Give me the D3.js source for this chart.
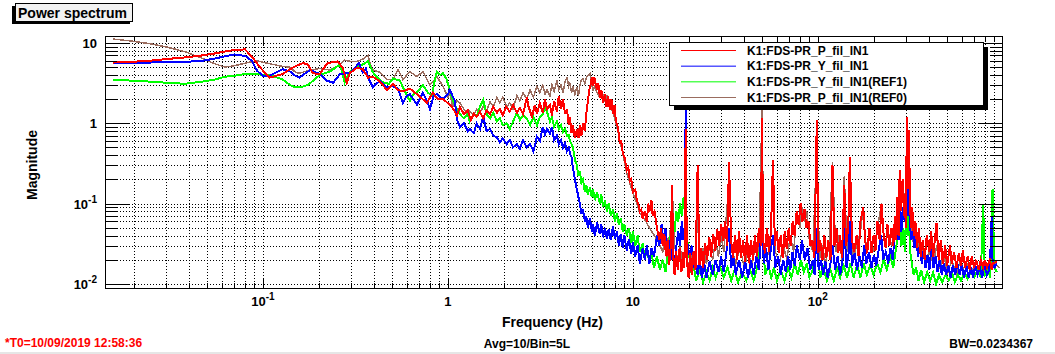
<!DOCTYPE html>
<html lang="en">
<head>
<meta charset="utf-8">
<style>
  body { margin: 0; background: #fff; }
  svg { display: block; }
  text { font-family: "Liberation Sans", Arial, sans-serif; font-weight: bold; }
  .tick line { shape-rendering: crispEdges; }
  .grid line { stroke: #000; stroke-dasharray: 1,2; shape-rendering: crispEdges; }
  .grid path, .ticks path { display: none; }
  .ticks line { stroke: #000; }
  .trace { fill: none; stroke-width: 2; stroke-linejoin: miter; shape-rendering: crispEdges; }
</style>
<script src="https://d3js.org/d3.v7.min.js" charset="utf-8"></script>
</head>
<body>
<script>
  // traces: [frequency (Hz), magnitude]
  let refP = [
    [0.0154,11.2],[0.0191,10.6],[0.0245,9.8],[0.0295,9.0],[0.0378,7.8],[0.0472,6.4],[0.055,5.5],[0.0622,5.0],[0.070,5.2],[0.080,5.6],
    [0.093,6.0],[0.109,5.5],[0.128,5.1],[0.140,5.0],[0.150,4.3],[0.158,4.2],[0.179,4.6],[0.203,4.8],[0.230,4.6],[0.255,5.2],
    [0.277,6.1],[0.295,5.9],[0.322,5.9],[0.347,6.3],[0.370,7.0],[0.385,5.0],[0.393,4.6],[0.429,4.3],[0.468,3.5],[0.504,3.5],
    [0.537,4.7],[0.571,3.5],[0.623,4.4],[0.680,3.8],[0.733,4.4],[0.799,3.0],[0.872,3.8],[0.940,2.9],[1.0,2.1],[1.025,2.4],
    [1.06,1.6],[1.12,1.9],[1.16,1.8],[1.22,1.5],[1.28,1.3],[1.31,1.4],[1.38,1.25],[1.43,1.5],[1.49,1.35],[1.55,1.6],
    [1.62,1.45],[1.69,1.85],[1.76,1.6],[1.84,2.1],[1.91,1.8],[1.98,2.1],[2.08,1.6],[2.16,1.8],[2.25,1.5],[2.36,2.2],
    [2.45,1.9],[2.55,2.4],[2.67,2.0],[2.78,2.6],[2.9,2.1],[3.03,2.9],[3.14,2.4],[3.26,3.0],[3.35,2.3],[3.43,2.6],
    [3.56,2.2],[3.65,3.0],[3.75,2.5],[3.88,3.4],[3.98,2.6],[4.09,3.0],[4.19,2.4],[4.30,3.3],[4.40,3.7],[4.50,2.9],
    [4.57,3.2],[4.66,2.4],[4.74,2.9],[4.86,2.3],[4.98,2.8],[5.08,2.2],[5.17,3.0],[5.27,3.5],[5.37,3.6],[5.50,3.1],
    [5.60,3.7],[5.71,3.9],[5.86,4.2],[5.95,3.3],[6.09,2.6],[6.23,2.9],[6.40,2.4],[6.63,2.1],[6.80,2.5],[7.06,1.9],
    [7.24,2.2],[7.51,1.7],[7.81,1.35],[8.10,1.0],[8.30,0.8],[8.50,0.6],[8.82,0.42],[9.00,0.33],[9.27,0.24],[9.63,0.18],
    [10.0,0.135],[10.5,0.1],[10.9,0.076],[11.3,0.07],[11.9,0.057],[12.3,0.05],[12.8,0.043],[13.6,0.035],[14.5,0.025],[15,0.045],
    [15.5,0.03],[16,0.05],[16.4,0.12],[16.8,0.03],[17.5,0.02],[18,0.03],[18.5,0.018],[19,0.025],[19.3,0.5],[19.6,0.02],
    [20.3,0.016],[21,0.024],[22,0.015],[22.4,0.25],[23,0.02],[24,0.028],[25,0.018],[26,0.03],[27,0.02],[28,0.035],
    [29,0.022],[30,0.04],[31,0.025],[33.1,0.2],[34,0.03],[36,0.018],[38,0.028],[40,0.016],[42,0.025],[44,0.017],
    [46,0.03],[48,0.02],[49.9,1.6],[51,0.025],[53,0.04],[55,0.02],[57.2,0.25],[59,0.025],[62,0.018],[65,0.03],
    [68,0.02],[71,0.04],[74,0.025],[77,0.08],[80,0.05],[82,0.09],[85,0.06],[87,0.08],[90,0.035],[94,0.025],
    [98.7,0.5],[102,0.02],[106,0.03],[110,0.018],[115,0.03],[120,0.33],[125,0.025],[130,0.04],[135,0.02],[139,0.22],
    [144,0.025],[149,0.3],[155,0.02],[162,0.03],[170,0.045],[176,0.09],[182,0.03],[190,0.04],[200,0.025],[210,0.05],
    [221,0.1],[230,0.03],[240,0.045],[250,0.03],[261,0.045],[270,0.07],[277,0.2],[288,0.15],[295,0.08],[303,0.7],
    [310,0.3],[314,0.1],[320,0.05],[330,0.03],[340,0.045],[352,0.025],[365,0.03],[380,0.018],[400,0.025],[420,0.018],
    [440,0.03],[460,0.015],[480,0.025],[500,0.013],[530,0.02],[560,0.013],[590,0.02],[620,0.014],[650,0.018],[680,0.015],
    [720,0.018],[760,0.014],[800,0.017],[850,0.015],[900,0.018],[960,0.016]
  ];

  let refY = [
    [0.0154,3.5],[0.0191,3.4],[0.0245,3.3],[0.030,3.2],[0.0378,3.1],[0.0472,3.3],[0.055,3.5],[0.0622,3.8],[0.070,3.9],[0.080,4.1],
    [0.093,4.1],[0.100,4.0],[0.109,4.0],[0.120,3.7],[0.128,3.5],[0.140,3.0],[0.150,2.8],[0.160,2.8],[0.175,3.0],[0.190,3.5],
    [0.203,4.0],[0.230,4.4],[0.261,5.4],[0.277,3.2],[0.295,4.4],[0.320,5.0],[0.347,5.4],[0.370,5.9],[0.393,4.3],[0.420,3.6],
    [0.450,3.2],[0.480,3.1],[0.504,3.6],[0.550,3.4],[0.580,2.6],[0.623,1.9],[0.65,2.3],[0.69,2.5],[0.733,3.0],[0.78,2.4],
    [0.82,2.2],[0.85,3.5],[0.872,4.4],[0.91,4.0],[0.94,4.2],[0.98,3.6],[1.025,2.6],[1.06,2.0],[1.09,1.7],[1.16,1.3],
    [1.22,1.15],[1.28,1.3],[1.31,1.05],[1.38,1.3],[1.43,1.2],[1.49,1.6],[1.55,1.95],[1.62,1.3],[1.69,1.15],[1.76,1.35],
    [1.84,1.05],[1.91,1.15],[1.98,0.95],[2.08,1.0],[2.16,0.85],[2.25,1.05],[2.36,1.35],[2.45,1.1],[2.55,1.25],[2.67,1.15],
    [2.78,0.95],[2.9,1.2],[3.03,0.95],[3.14,1.2],[3.26,1.3],[3.35,1.6],[3.43,1.4],[3.56,1.05],[3.65,1.2],[3.75,0.9],
    [3.88,1.05],[3.98,0.85],[4.09,0.95],[4.19,0.78],[4.30,0.85],[4.40,0.7],[4.50,0.72],[4.57,0.6],[4.66,0.55],[4.74,0.5],
    [4.86,0.35],[4.98,0.3],[5.08,0.22],[5.17,0.25],[5.27,0.18],[5.37,0.2],[5.50,0.14],[5.60,0.17],[5.71,0.13],[5.86,0.16],
    [6.00,0.12],[6.09,0.15],[6.23,0.11],[6.40,0.14],[6.63,0.1],[6.75,0.13],[6.90,0.09],[7.06,0.11],[7.24,0.08],[7.40,0.1],
    [7.60,0.07],[7.81,0.085],[8.0,0.06],[8.19,0.075],[8.40,0.055],[8.60,0.065],[8.82,0.045],[9.0,0.055],[9.27,0.04],[9.50,0.05],
    [9.80,0.032],[10.0,0.045],[10.3,0.03],[10.6,0.04],[10.9,0.025],[11.3,0.032],[11.6,0.02],[11.9,0.028],[12.3,0.018],[12.6,0.025],
    [13.0,0.016],[13.5,0.022],[14.0,0.015],[14.5,0.02],[15.0,0.014],[15.5,0.025],[16.0,0.04],[16.4,0.06],[16.8,0.045],[17.2,0.08],
    [17.6,0.06],[18.0,0.1],[18.4,0.07],[18.8,0.12],[19.1,0.08],[19.3,0.15],[19.5,0.05],[19.8,0.03],[20.3,0.02],[20.8,0.013],
    [21.3,0.017],[22,0.011],[23,0.015],[24,0.0105],[25,0.014],[26,0.011],[27,0.016],[28,0.012],[29.5,0.017],[31,0.012],
    [32.5,0.016],[34,0.011],[35.5,0.015],[37,0.0105],[39,0.014],[41,0.011],[43,0.015],[45,0.011],[47,0.016],[49.9,0.04],
    [52,0.013],[54,0.017],[56,0.012],[58,0.016],[60,0.011],[63,0.015],[66,0.011],[69,0.016],[72,0.012],[75,0.018],
    [78,0.013],[81,0.02],[84,0.014],[87,0.018],[90,0.012],[94,0.015],[98.7,0.03],[103,0.012],[107,0.016],[112,0.011],
    [117,0.015],[122,0.011],[127,0.016],[132,0.012],[138,0.017],[144,0.012],[150,0.018],[156,0.012],[163,0.017],[170,0.012],
    [177,0.018],[184,0.013],[192,0.017],[200,0.013],[209,0.018],[218,0.014],[227,0.02],[236,0.015],[246,0.022],[256,0.016],
    [266,0.03],[277,0.08],[283,0.03],[290,0.05],[296,0.025],[303,0.15],[307,0.04],[311,0.06],[316,0.025],[322,0.018],
    [330,0.013],[340,0.016],[350,0.011],[362,0.015],[375,0.0105],[390,0.014],[405,0.011],[420,0.014],[436,0.01],[452,0.013],
    [470,0.0105],[490,0.013],[510,0.011],[530,0.014],[550,0.0105],[572,0.013],[595,0.011],[620,0.014],[645,0.0115],[670,0.014],
    [700,0.012],[730,0.015],[760,0.012],[783,0.1],[800,0.013],[830,0.015],[855,0.012],[880,0.15],[900,0.016],[930,0.014]
  ];

  let liveY = [
    [0.0154,5.7],[0.0191,5.6],[0.0245,5.7],[0.030,5.8],[0.0378,5.8],[0.0472,6.0],[0.055,6.4],[0.0622,6.8],[0.070,7.2],[0.080,6.9],
    [0.087,6.0],[0.093,4.5],[0.100,3.9],[0.109,3.9],[0.120,4.4],[0.128,4.7],[0.140,4.4],[0.150,3.9],[0.158,3.7],[0.170,4.2],
    [0.180,4.6],[0.203,4.1],[0.22,3.4],[0.24,3.2],[0.261,4.1],[0.28,4.2],[0.30,4.3],[0.33,5.6],[0.347,4.3],[0.36,4.8],
    [0.37,3.7],[0.393,2.8],[0.429,3.4],[0.468,2.8],[0.504,2.9],[0.537,2.7],[0.571,1.8],[0.60,2.2],[0.623,2.3],[0.68,1.7],
    [0.733,2.4],[0.77,1.9],[0.80,1.5],[0.837,2.2],[0.872,2.3],[0.94,2.0],[1.0,2.3],[1.025,2.6],[1.09,1.9],[1.12,1.1],
    [1.16,0.9],[1.22,1.0],[1.28,0.8],[1.31,0.85],[1.38,0.75],[1.43,1.0],[1.49,0.85],[1.55,1.2],[1.62,0.8],[1.69,0.85],
    [1.76,0.7],[1.84,0.67],[1.91,0.58],[1.98,0.65],[2.08,0.55],[2.16,0.62],[2.25,0.5],[2.36,0.55],[2.45,0.48],[2.55,0.62],
    [2.67,0.5],[2.78,0.55],[2.9,0.45],[3.03,0.68],[3.14,0.6],[3.26,0.9],[3.35,0.72],[3.43,0.85],[3.56,0.75],[3.65,0.9],
    [3.75,0.62],[3.88,0.7],[3.98,0.55],[4.09,0.62],[4.19,0.5],[4.30,0.56],[4.40,0.45],[4.50,0.5],[4.57,0.42],[4.66,0.38],
    [4.74,0.28],[4.86,0.2],[4.98,0.15],[5.08,0.12],[5.17,0.1],[5.27,0.075],[5.37,0.085],[5.50,0.06],[5.60,0.07],[5.71,0.05],
    [5.86,0.065],[6.00,0.045],[6.09,0.055],[6.23,0.04],[6.40,0.058],[6.63,0.042],[6.75,0.055],[6.90,0.038],[7.06,0.05],[7.24,0.036],
    [7.40,0.048],[7.60,0.035],[7.81,0.052],[8.0,0.036],[8.19,0.045],[8.40,0.03],[8.60,0.042],[8.82,0.028],[9.0,0.04],[9.27,0.026],
    [9.50,0.036],[9.80,0.024],[10.0,0.033],[10.3,0.022],[10.6,0.03],[10.9,0.018],[11.3,0.028],[11.6,0.02],[11.9,0.03],[12.3,0.018],
    [12.6,0.028],[13.0,0.022],[13.5,0.04],[13.9,0.03],[14.3,0.055],[14.6,0.035],[15.0,0.05],[15.3,0.026],[15.7,0.035],[16.0,0.02],
    [16.4,0.03],[16.8,0.017],[17.2,0.03],[17.6,0.045],[18.0,0.03],[18.4,0.06],[18.8,0.035],[19.1,0.05],[19.3,1.8],[19.5,0.04],
    [19.8,0.03],[20.3,0.022],[20.8,0.03],[21.3,0.016],[21.8,0.022],[22.4,0.013],[23.0,0.02],[23.6,0.012],[24.3,0.018],[25.0,0.012],
    [26,0.019],[27,0.013],[28,0.02],[29,0.014],[30,0.022],[31,0.014],[32,0.024],[33.1,0.05],[34,0.016],[35,0.021],
    [36,0.013],[37.5,0.02],[39,0.012],[40.5,0.019],[42,0.012],[43.5,0.02],[45,0.013],[46.5,0.022],[48,0.015],[49.9,0.07],
    [51,0.018],[52.5,0.028],[54,0.015],[55.5,0.025],[57.2,0.04],[59,0.016],[61,0.022],[63,0.013],[65,0.02],[67,0.014],
    [69,0.022],[71,0.015],[73,0.025],[75,0.017],[77,0.03],[80,0.02],[82,0.035],[85,0.02],[88,0.028],[91,0.015],
    [94,0.02],[96,0.013],[98.7,0.05],[101,0.015],[104,0.02],[107,0.013],[110,0.019],[113,0.012],[117,0.018],[120,0.03],
    [124,0.015],[128,0.022],[132,0.013],[136,0.02],[139,0.05],[143,0.016],[147,0.025],[149,0.06],[153,0.017],[158,0.024],
    [163,0.015],[168,0.022],[173,0.016],[178,0.03],[183,0.018],[189,0.025],[195,0.016],[201,0.023],[207,0.017],[213,0.026],
    [220,0.04],[226,0.02],[233,0.025],[240,0.018],[247,0.028],[254,0.02],[261,0.045],[268,0.06],[273,0.035],[277,0.13],
    [283,0.045],[288,0.09],[295,0.06],[300,0.1],[303,0.3],[307,0.07],[310,0.15],[314,0.06],[320,0.035],[327,0.05],
    [333,0.028],[340,0.04],[348,0.022],[356,0.03],[365,0.018],[373,0.026],[382,0.016],[392,0.023],[401,0.015],[412,0.03],
    [422,0.016],[433,0.022],[444,0.014],[456,0.02],[468,0.013],[480,0.018],[494,0.013],[508,0.017],[522,0.012],[537,0.017],
    [552,0.013],[568,0.018],[584,0.013],[600,0.017],[617,0.012],[635,0.017],[653,0.012],[672,0.016],[690,0.012],[710,0.017],
    [730,0.013],[752,0.016],[774,0.012],[796,0.018],[820,0.013],[845,0.015],[860,0.03],[871,0.068],[880,0.02],[900,0.016],
    [930,0.018]
  ];

  let liveP = [
    [0.0154,5.7],[0.0191,5.8],[0.0245,6.0],[0.030,6.3],[0.0378,6.6],[0.0472,7.0],[0.055,7.4],[0.0622,7.8],[0.070,8.2],[0.080,8.3],
    [0.088,6.6],[0.095,5.2],[0.102,4.3],[0.109,3.7],[0.118,3.9],[0.128,4.1],[0.140,4.7],[0.149,5.1],[0.158,5.4],[0.165,5.6],
    [0.175,5.4],[0.186,4.2],[0.203,4.1],[0.223,5.6],[0.254,5.9],[0.270,4.9],[0.284,3.2],[0.295,4.2],[0.322,4.9],[0.347,4.7],
    [0.370,3.7],[0.393,3.8],[0.429,3.3],[0.468,2.6],[0.504,3.1],[0.537,2.6],[0.571,2.5],[0.623,2.7],[0.680,2.3],[0.730,2.0],
    [0.770,1.8],[0.830,2.4],[0.880,2.0],[0.940,2.0],[1.025,1.7],[1.07,1.5],[1.12,1.25],[1.16,1.6],[1.22,1.3],[1.28,1.45],
    [1.33,1.1],[1.38,1.3],[1.43,1.2],[1.49,1.4],[1.55,1.15],[1.62,1.45],[1.69,1.3],[1.76,1.6],[1.84,1.35],[1.91,1.5],
    [1.98,1.25],[2.06,1.6],[2.16,1.4],[2.25,1.7],[2.36,1.35],[2.45,1.55],[2.55,1.3],[2.67,2.1],[2.73,1.6],[2.85,1.2],
    [2.95,1.7],[3.03,1.3],[3.14,1.8],[3.26,1.35],[3.35,2.0],[3.43,1.5],[3.56,1.7],[3.65,1.25],[3.75,1.9],[3.88,1.4],
    [3.98,2.2],[4.09,1.5],[4.19,2.0],[4.30,1.3],[4.40,1.5],[4.50,0.95],[4.57,1.2],[4.66,0.75],[4.74,0.95],[4.86,0.65],
    [4.98,0.85],[5.08,0.65],[5.17,0.95],[5.27,0.7],[5.37,1.0],[5.50,0.8],[5.60,1.3],[5.71,1.9],[5.80,2.5],[5.90,3.0],
    [6.00,3.7],[6.09,2.9],[6.18,3.8],[6.30,3.0],[6.40,2.6],[6.50,3.2],[6.63,2.1],[6.75,2.6],[6.90,1.8],[7.06,2.3],
    [7.20,1.6],[7.35,2.2],[7.51,1.45],[7.65,2.0],[7.81,1.3],[7.95,1.7],[8.10,1.05],[8.30,0.9],[8.50,0.55],[8.65,0.62],
    [8.82,0.42],[9.00,0.38],[9.27,0.26],[9.45,0.28],[9.63,0.19],[9.80,0.2],[10.0,0.14],[10.3,0.15],[10.5,0.11],[10.7,0.1],
    [10.9,0.08],[11.1,0.085],[11.3,0.065],[11.6,0.08],[11.9,0.06],[12.1,0.1],[12.3,0.08],[12.6,0.11],[12.8,0.07],[13.1,0.08],
    [13.5,0.05],[13.9,0.035],[14.2,0.05],[14.5,0.03],[14.8,0.042],[15.1,0.022],[15.4,0.035],[15.7,0.017],[16.0,0.028],[16.3,0.17],
    [16.5,0.024],[16.8,0.013],[17.1,0.026],[17.5,0.015],[17.9,0.028],[18.3,0.014],[18.7,0.025],[19.0,0.016],[19.3,0.85],[19.6,0.019],
    [20.0,0.012],[20.4,0.024],[20.8,0.013],[21.3,0.026],[21.8,0.015],[22.4,0.3],[22.9,0.017],[23.4,0.028],[24.0,0.016],[24.6,0.032],
    [25.2,0.02],[25.9,0.038],[26.5,0.022],[27.2,0.042],[27.9,0.026],[28.6,0.048],[29.3,0.03],[30.0,0.055],[30.8,0.034],[31.5,0.06],
    [32.3,0.03],[33.1,0.33],[34.0,0.034],[34.8,0.021],[35.7,0.04],[36.6,0.02],[37.5,0.045],[38.4,0.021],[39.4,0.035],[40.4,0.019],
    [41.4,0.04],[42.4,0.018],[43.5,0.035],[44.6,0.02],[45.7,0.04],[46.8,0.022],[48.0,0.05],[49.2,0.03],[49.9,1.15],[50.6,0.035],
    [51.8,0.024],[53.1,0.05],[54.4,0.025],[55.8,0.045],[57.2,0.35],[58.6,0.03],[60.0,0.045],[61.5,0.024],[63.0,0.04],[64.6,0.021],
    [66.2,0.045],[67.9,0.027],[69.6,0.05],[71.3,0.03],[73.1,0.06],[74.9,0.04],[76.8,0.08],[78.7,0.055],[80.6,0.1],[82.6,0.06],
    [84.7,0.085],[86.8,0.05],[89.0,0.06],[91.2,0.03],[93.5,0.035],[95.8,0.021],[98.7,1.1],[100.6,0.024],[103,0.035],[106,0.02],
    [108.5,0.04],[111,0.021],[114,0.035],[117,0.02],[120,0.3],[123,0.03],[126,0.05],[129,0.024],[132,0.04],[135,0.021],
    [139,0.17],[142,0.03],[146,0.05],[149,0.38],[153,0.035],[157,0.025],[162,0.04],[166,0.022],[170,0.06],[176,0.09],
    [180,0.035],[185,0.024],[190,0.05],[195,0.024],[200,0.04],[205,0.026],[210,0.06],[216,0.035],[221,0.1],[227,0.04],
    [233,0.028],[238,0.055],[244,0.03],[250,0.05],[256,0.03],[261,0.07],[265,0.035],[268,0.12],[273,0.04],[277,0.26],
    [280,0.08],[283,0.15],[288,0.2],[292,0.07],[295,0.13],[299,0.05],[303,1.2],[307,0.15],[310,0.82],[314,0.2],
    [318,0.05],[324,0.09],[330,0.04],
    [337,0.06],[344,0.028],[352,0.05],[360,0.022],[369,0.035],[378,0.02],[388,0.04],[401,0.025],[410,0.045],[420,0.022],
    [438,0.057],[450,0.02],[462,0.035],[474,0.018],[488,0.03],[500,0.017],[518,0.03],[530,0.018],[545,0.025],[562,0.016],
    [578,0.024],[595,0.017],[608,0.026],[625,0.016],[645,0.022],[662,0.015],[680,0.022],[700,0.016],[718,0.02],[740,0.015],
    [760,0.02],[783,0.016],[800,0.02],[820,0.016],[851,0.02],[870,0.015],[884,0.018],[930,0.019]
  ];

  let seriesNames = ["K1:FDS-PR_P_fil_IN1", "K1:FDS-PR_Y_fil_IN1", "K1:FDS-PR_Y_fil_IN1(REF1)", "K1:FDS-PR_P_fil_IN1(REF0)"];
  let seriesColors = ["#ff0000", "#0000ff", "#00ff00", "#9a6c5e"];
  let seriesWidths = [2, 2, 2, 1.5];
  let seriesData = [liveP, liveY, refY, refP];
  let drawOrder = [3, 2, 1, 0];

  let xMajor = [0.1, 1, 10, 100];
  let xTickLabels = [["10", "-1"], ["1", ""], ["10", ""], ["10", "2"]];
  let yMajor = [0.01, 0.1, 1, 10];
  let yTickLabels = [["10", "-2"], ["10", "-1"], ["1", ""], ["10", ""]];

  let xDomain = [0.014, 990];
  let yDomain = [0.0089, 12.2];

  let svgW = 1055, svgH = 354;
  let fL = 105, fR = 1002, fT = 36, fB = 288;

  let svg = d3.select("body").append("svg")
    .attr("width", svgW)
    .attr("height", svgH);

  let x = d3.scaleLog().domain(xDomain).range([fL, fR]);
  let y = d3.scaleLog().domain(yDomain).range([fB, fT]);

  function allTicks(lo, hi) {
    let t = [];
    for (let e = -3; e <= 3; e++) {
      for (let m = 1; m < 10; m++) {
        let v = m * Math.pow(10, e);
        if (v >= lo && v <= hi) t.push(v);
      }
    }
    return t;
  }
  let xAll = allTicks(xDomain[0], xDomain[1]);
  let yAll = allTicks(yDomain[0], yDomain[1]);
  let xMinor = xAll.filter(function(v) { return xMajor.indexOf(v) < 0; });
  let yMinor = yAll.filter(function(v) { return yMajor.indexOf(v) < 0; });

  // grid
  svg.append("g").attr("class", "grid")
    .attr("transform", "translate(0," + fB + ")")
    .call(d3.axisTop(x).tickValues(xAll).tickSize(fB - fT).tickFormat(""));
  svg.append("g").attr("class", "grid")
    .attr("transform", "translate(" + fL + ",0)")
    .call(d3.axisRight(y).tickValues(yAll).tickSize(fR - fL).tickFormat(""));

  // traces
  svg.append("clipPath").attr("id", "frame")
    .append("rect").attr("x", fL).attr("y", fT).attr("width", fR - fL).attr("height", fB - fT);

  let line = d3.line()
    .x(function(d) { return x(d[0]); })
    .y(function(d) { return y(d[1]); });

  drawOrder.forEach(function(i) {
    svg.append("path")
      .attr("class", "trace")
      .attr("clip-path", "url(#frame)")
      .attr("d", line(seriesData[i]))
      .style("stroke", seriesColors[i])
      .style("stroke-width", seriesWidths[i]);
  });

  // axis ticks
  function tickAxis(axis, tr, values, size) {
    svg.append("g").attr("class", "ticks")
      .attr("transform", tr)
      .call(axis.tickValues(values).tickSize(size).tickFormat(""));
  }
  tickAxis(d3.axisRight(y), "translate(" + fL + ",0)", yMinor, 12);
  tickAxis(d3.axisRight(y), "translate(" + fL + ",0)", yMajor, 24);
  tickAxis(d3.axisLeft(y), "translate(" + fR + ",0)", yMinor, 12);
  tickAxis(d3.axisLeft(y), "translate(" + fR + ",0)", yMajor, 24);
  tickAxis(d3.axisTop(x), "translate(0," + fB + ")", xMinor, 5);
  tickAxis(d3.axisTop(x), "translate(0," + fB + ")", xMajor, 10);
  tickAxis(d3.axisBottom(x), "translate(0," + fT + ")", xMinor, 5);
  tickAxis(d3.axisBottom(x), "translate(0," + fT + ")", xMajor, 10);

  svg.append("rect")
    .attr("x", fL + 0.5).attr("y", fT + 0.5)
    .attr("width", fR - fL).attr("height", fB - fT)
    .attr("fill", "none").attr("stroke", "#000");

  // tick labels
  function powLabel(g, lab) {
    g.append("tspan").text(lab[0]);
    if (lab[1]) {
      g.append("tspan").attr("dy", -6).attr("font-size", 10).text(lab[1]);
    }
  }
  xMajor.forEach(function(v, i) {
    let t = svg.append("text")
      .attr("x", x(v)).attr("y", 306)
      .attr("text-anchor", "middle")
      .attr("font-size", 13);
    powLabel(t, xTickLabels[i]);
  });
  yMajor.forEach(function(v, i) {
    let t = svg.append("text")
      .attr("x", 97).attr("y", y(v) + 5)
      .attr("text-anchor", "end")
      .attr("font-size", 13);
    powLabel(t, yTickLabels[i]);
  });

  // axis titles
  svg.append("text")
    .attr("x", 603).attr("y", 327)
    .attr("text-anchor", "end")
    .attr("font-size", 14)
    .text("Frequency (Hz)");
  svg.append("text")
    .attr("transform", "translate(37,200) rotate(-90)")
    .attr("font-size", 14)
    .text("Magnitude");

  // title box
  svg.append("rect").attr("x", 12).attr("y", 6).attr("width", 118).attr("height", 18).attr("fill", "#000");
  svg.append("rect").attr("x", 15.5).attr("y", 3.5).attr("width", 117).attr("height", 18)
    .attr("fill", "#f2f2f2").attr("stroke", "#000");
  svg.append("text")
    .attr("x", 18).attr("y", 18)
    .attr("font-size", 14)
    .text("Power spectrum");

  // legend
  let lx = 669, ly = 42, lw = 314, lh = 63;
  svg.append("rect").attr("x", lx + 5).attr("y", ly + 5).attr("width", lw).attr("height", lh).attr("fill", "#000");
  svg.append("rect").attr("x", lx + 0.5).attr("y", ly + 0.5).attr("width", lw).attr("height", lh)
    .attr("fill", "#fff").attr("stroke", "#000");
  let rowY = d3.scalePoint().domain(d3.range(seriesNames.length)).range([50, 97]);
  seriesNames.forEach(function(name, i) {
    svg.append("line")
      .attr("x1", 681).attr("x2", 736)
      .attr("y1", rowY(i) + 0.5).attr("y2", rowY(i) + 0.5)
      .attr("stroke", seriesColors[i]);
    svg.append("text")
      .attr("x", 747).attr("y", rowY(i) + 4.5)
      .attr("font-size", 12)
      .text(name);
  });

  // footer
  svg.append("text").attr("x", 5).attr("y", 347).attr("font-size", 12)
    .attr("fill", "#ff0000").text("*T0=10/09/2019 12:58:36");
  svg.append("text").attr("x", 527).attr("y", 348).attr("font-size", 12)
    .attr("text-anchor", "middle").text("Avg=10/Bin=5L");
  svg.append("text").attr("x", 1033).attr("y", 348).attr("font-size", 12)
    .attr("text-anchor", "end").text("BW=0.0234367");
  svg.append("rect").attr("x", 0).attr("y", 352).attr("width", svgW).attr("height", 2).attr("fill", "#e6e6e6");
</script>
</body>
</html>
